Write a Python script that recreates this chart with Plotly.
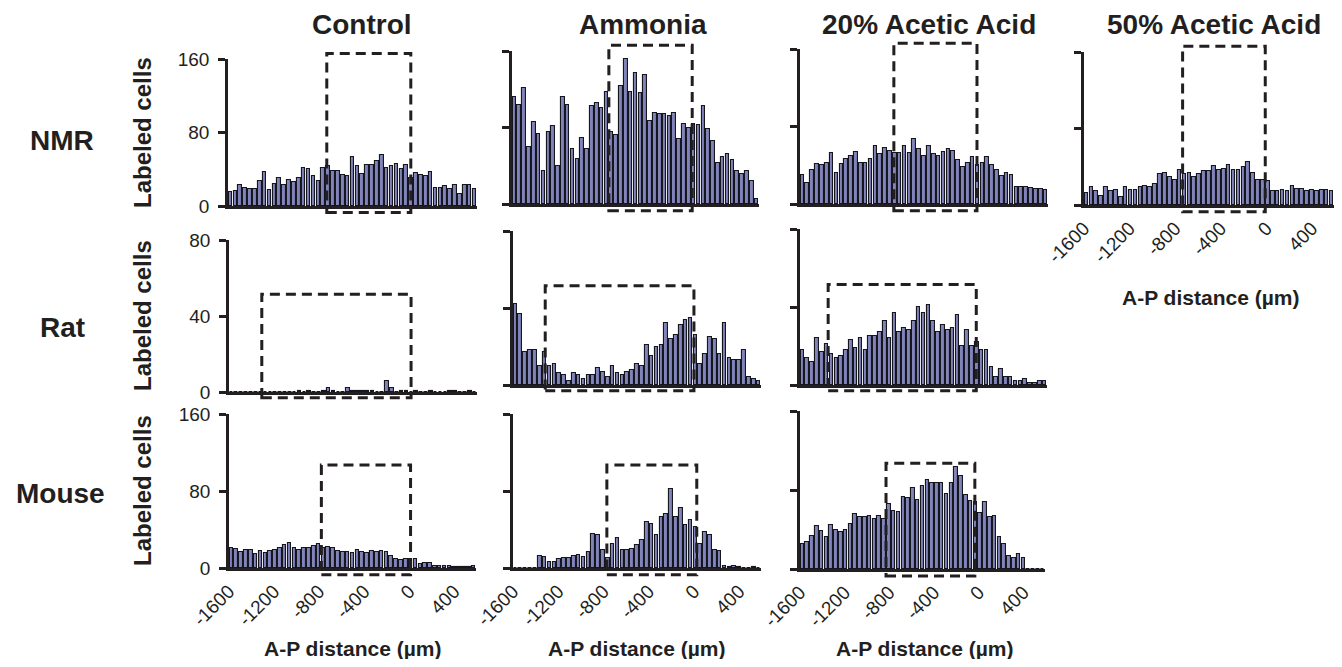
import plotly.graph_objects as go

# ---------------- data ----------------
columns = ["Control", "Ammonia", "20% Acetic Acid", "50% Acetic Acid"]
species = ["NMR", "Rat", "Mouse"]

bin_start = -1600      # µm, left edge of first bin
bin_width = 43         # µm
n_bins = 51
x_range = [-1600, 593]
x_ticks = [-1600, -1200, -800, -400, 0, 400]
x_tick_labels = ["-1600", "-1200", "-800", "-400", "0", "400"]

nmr_control = [15, 16, 23, 20, 19, 19, 27, 37, 17, 24, 31, 23, 28, 26, 30, 41, 40, 33, 27, 41,
               43, 38, 38, 34, 33, 53, 44, 35, 45, 45, 49, 55, 41, 44, 46, 40, 45, 31, 36, 34,
               33, 37, 20, 20, 22, 19, 23, 13, 23, 23, 19]
nmr_ammonia = [112, 104, 121, 60, 86, 73, 35, 75, 82, 40, 112, 104, 57, 47, 69, 58, 102, 106, 100, 117,
               75, 72, 123, 152, 117, 137, 116, 135, 87, 95, 94, 94, 92, 95, 68, 84, 79, 84, 83, 102,
               78, 66, 43, 49, 52, 46, 34, 31, 35, 24, 5]
nmr_acetic20 = [30, 22, 35, 41, 40, 42, 53, 32, 41, 46, 50, 54, 42, 42, 46, 60, 52, 58, 55, 53,
                53, 60, 53, 67, 57, 50, 60, 52, 50, 54, 57, 55, 45, 38, 42, 49, 40, 42, 49, 40,
                35, 29, 32, 30, 18, 18, 18, 17, 15, 16, 14]
nmr_acetic50 = [13, 19, 15, 9, 19, 15, 16, 8, 19, 16, 16, 19, 20, 19, 22, 32, 33, 29, 26, 37,
                32, 33, 29, 32, 36, 36, 41, 37, 38, 42, 37, 37, 40, 45, 33, 26, 26, 25, 15, 15,
                16, 15, 20, 17, 17, 15, 16, 15, 16, 16, 15]
rat_control = [0, 0, 0, 0, 0, 0, 0, 0, 0, 0, 0, 0, 0, 0, 0.5, 0, 0.5, 0, 0, 0.5,
               2, 0.5, 0, 0, 2, 0.5, 0.5, 0.5, 0.5, 0.5, 0, 0, 6, 2, 0, 0.5, 0.5, 0, 0.5, 0,
               0, 0.5, 0, 0, 0, 0.5, 0.5, 0, 0, 0.5, 0]
rat_ammonia = [42, 37, 17, 18, 18, 10, 17, 10, 11, 6, 5, 2, 6, 5, 3, 5, 5, 9, 7, 4,
               10, 6, 5, 7, 8, 11, 10, 21, 15, 20, 21, 32, 24, 26, 31, 34, 35, 26, 11, 16,
               25, 24, 16, 32, 14, 13, 13, 18, 4, 3, 2]
rat_acetic20 = [18, 14, 12, 24, 17, 21, 16, 14, 15, 18, 23, 19, 24, 18, 25, 25, 27, 33, 24, 37,
                27, 29, 28, 33, 40, 37, 41, 33, 27, 31, 28, 29, 36, 20, 28, 20, 22, 18, 18, 9,
                4, 8, 4, 4, 2, 2, 3, 1, 1, 2, 2]
mouse_control = [21, 20, 17, 19, 19, 15, 18, 16, 18, 19, 21, 24, 26, 21, 19, 21, 21, 23, 25, 21,
                 22, 21, 18, 17, 17, 16, 19, 17, 16, 18, 17, 18, 17, 12, 9, 8, 9, 9, 9, 4,
                 5, 5, 2, 2, 2, 2, 1, 1, 1, 1, 2]
mouse_ammonia = [0, 0, 0, 0, 0, 12, 11, 6, 6, 9, 10, 10, 12, 14, 11, 17, 35, 34, 19, 10,
                 25, 31, 19, 19, 20, 24, 29, 48, 46, 34, 53, 56, 82, 53, 62, 45, 50, 43, 25, 37,
                 34, 19, 18, 2, 1, 2, 1, 0, 0, 1, 0]
mouse_acetic20 = [25, 27, 33, 44, 38, 32, 45, 40, 37, 40, 46, 56, 53, 53, 54, 51, 54, 51, 66, 59,
                  58, 73, 72, 82, 70, 84, 90, 87, 87, 87, 76, 87, 103, 94, 75, 69, 68, 57, 68, 53,
                  54, 32, 25, 13, 11, 15, 11, 0, 0, 0, 0]

# dashed "region of interest" boxes: [x left, x right] in µm, [y bottom, y top] in cells
box_x = {
    "nmr_control": [-730, 10], "nmr_ammonia": [-740, 0], "nmr_acetic20": [-770, -35],
    "nmr_acetic50": [-735, -10], "rat_control": [-1310, 10], "rat_ammonia": [-1315, 0],
    "rat_acetic20": [-1350, -35], "mouse_control": [-780, 12], "mouse_ammonia": [-770, 25],
    "mouse_acetic20": [-830, -35],
}
box_y = {0: [-7, 166], 1: [-3, 51.5], 2: [-7, 107]}

y_max = {0: 160, 1: 80, 2: 160}
y_ticks = {0: [0, 80, 160], 1: [0, 40, 80], 2: [0, 80, 160]}

# ---------------- layout geometry (screen pixels) ----------------
PAGE_W, PAGE_H = 1342, 667
OFF = 8                      # default page margin around the plot div
W, H = PAGE_W - 2 * OFF, PAGE_H - 2 * OFF


def px(v):
    return min(1.0, max(0.0, (v - OFF) / W))


def py(v):
    return min(1.0, max(0.0, 1 - (v - OFF) / H))


# key, series, row, col, x0, x1, y_bottom, y_top
panels = [
    ("nmr_control", nmr_control, 0, 0, 228, 477, 206, 59),
    ("nmr_ammonia", nmr_ammonia, 0, 1, 512, 759, 204, 51),
    ("nmr_acetic20", nmr_acetic20, 0, 2, 800, 1048, 204, 49),
    ("nmr_acetic50", nmr_acetic50, 0, 3, 1084, 1334, 205, 52),
    ("rat_control", rat_control, 1, 0, 229, 477, 392, 240),
    ("rat_ammonia", rat_ammonia, 1, 1, 513, 761, 385, 231),
    ("rat_acetic20", rat_acetic20, 1, 2, 800, 1047, 385, 229),
    ("mouse_control", mouse_control, 2, 0, 229, 476, 568, 414),
    ("mouse_ammonia", mouse_ammonia, 2, 1, 513, 761, 568, 414),
    ("mouse_acetic20", mouse_acetic20, 2, 2, 800, 1045, 569, 411),
]
xlabel_panels = {"nmr_acetic50", "mouse_control", "mouse_ammonia", "mouse_acetic20"}

INK = "#231f20"
FILL = "#8084b8"
EDGE = "#16161e"
FONT = "Liberation Sans, Arial, sans-serif"

x_centers = [bin_start + bin_width * (i + 0.5) for i in range(n_bins)]

fig = go.Figure()
layout = dict(
    width=W, height=H, autosize=False,
    margin=dict(l=0, r=0, t=0, b=0, pad=0, autoexpand=False),
    paper_bgcolor="white", plot_bgcolor="white",
    font=dict(family=FONT, color=INK),
    showlegend=False, bargap=0,
)
shapes = []
annotations = []

for i, (key, vals, row, col, x0, x1, yb, yt) in enumerate(panels, start=1):
    sfx = "" if i == 1 else str(i)
    xid, yid = "x" + sfx, "y" + sfx
    fig.add_trace(go.Bar(
        x=x_centers, y=vals, xaxis=xid, yaxis=yid,
        width=bin_width * 0.74,
        marker=dict(color=FILL, line=dict(color=EDGE, width=1.1)),
        hoverinfo="x+y",
    ))
    layout["xaxis" + sfx] = dict(
        domain=[px(x0), px(x1)], range=x_range, anchor=yid, automargin=False,
        showline=True, linewidth=2.5, linecolor=INK, ticks="",
        showgrid=False, zeroline=False,
        tickmode="array", tickvals=x_ticks, ticktext=x_tick_labels,
        showticklabels=key in xlabel_panels, tickangle=-45,
        tickfont=dict(size=19, family=FONT, color=INK),
        ticklabelstandoff=2,
    )
    layout["yaxis" + sfx] = dict(
        domain=[py(yb), py(yt)], range=[0, y_max[row]], anchor=xid, automargin=False,
        showline=True, linewidth=2.5, linecolor=INK,
        ticks="outside", ticklen=7, tickwidth=2.5, tickcolor=INK,
        tickmode="array", tickvals=y_ticks[row],
        showticklabels=(col == 0),
        tickfont=dict(size=19, family=FONT, color=INK),
        ticklabelstandoff=5,
        showgrid=False, zeroline=False,
    )
    bx = box_x[key]
    by = box_y[row]
    shapes.append(dict(
        type="rect", xref=xid, yref=yid + " domain",
        x0=bx[0], x1=bx[1],
        y0=by[0] / y_max[row], y1=by[1] / y_max[row],
        line=dict(color=INK, width=3, dash="10px,6px"),
        fillcolor="rgba(0,0,0,0)", layer="above",
    ))

# column titles (anchored to the top edge of the figure)
col_centers = [362, 643, 929, 1214]
for name, cx in zip(columns, col_centers):
    annotations.append(dict(text="<b>" + name + "</b>", x=px(cx), y=1.0,
                            xref="paper", yref="paper", showarrow=False,
                            xanchor="center", yanchor="top", borderpad=0,
                            font=dict(size=28, family=FONT, color=INK)))
# row labels
row_centers = [(62, 140), (62, 327), (60, 493)]
for name, (cx, cy) in zip(species, row_centers):
    annotations.append(dict(text="<b>" + name + "</b>", x=px(cx), y=py(cy),
                            xref="paper", yref="paper", showarrow=False,
                            xanchor="center", yanchor="middle",
                            font=dict(size=28, family=FONT, color=INK)))
# y titles
for cy in [133, 316, 491]:
    annotations.append(dict(text="<b>Labeled cells</b>", x=px(142), y=py(cy),
                            xref="paper", yref="paper", showarrow=False, textangle=-90,
                            xanchor="center", yanchor="middle",
                            font=dict(size=24, family=FONT, color=INK)))
# x titles
for cx, cy in [(352, 648), (636, 648), (924, 648), (1210, 298)]:
    annotations.append(dict(text="<b>A-P distance (µm)</b>", x=px(cx), y=py(cy),
                            xref="paper", yref="paper", showarrow=False,
                            xanchor="center", yanchor="middle",
                            font=dict(size=21, family=FONT, color=INK)))

layout["shapes"] = shapes
layout["annotations"] = annotations
fig.update_layout(**layout)
fig.write_html("out.html")
